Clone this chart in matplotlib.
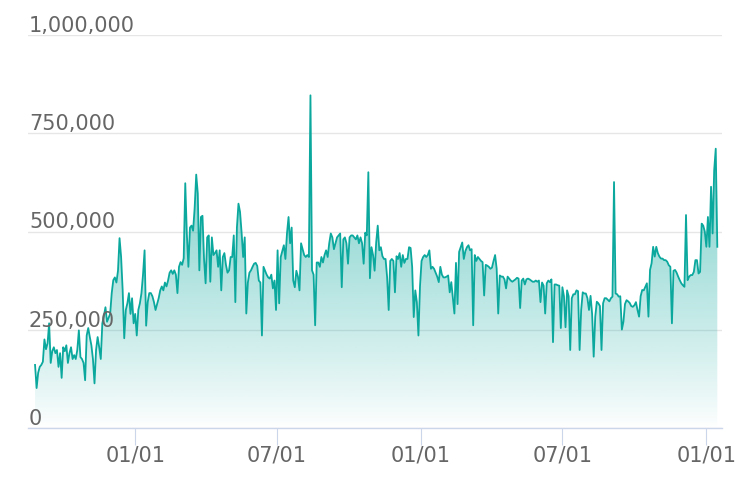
import numpy as np
import pandas as pd
import matplotlib
matplotlib.use("Agg")
import matplotlib.pyplot as plt
import matplotlib.dates as mdates
from matplotlib.colors import to_rgb

# ---------------- data ----------------
start_date = "2020-08-26"
step_days = 2
values_k = [
    160, 101, 140, 155, 160, 168, 225, 200, 215, 266,
    165, 195, 205, 190, 198, 155, 190, 127, 205, 195,
    210, 165, 190, 205, 175, 185, 175, 198, 248, 180,
    175, 165, 121, 235, 254, 231, 210, 175, 113, 198,
    231, 205, 175, 266, 285, 307, 270, 280, 290, 343,
    376, 383, 370, 400, 483, 435, 350, 228, 300, 317,
    343, 290, 330, 266, 290, 235, 300, 317, 343, 390,
    452, 260, 320, 343, 343, 335, 320, 300, 315, 330,
    350, 360, 350, 370, 360, 375, 395, 401, 392, 401,
    390, 343, 410, 422, 415, 432, 623, 495, 410, 510,
    515, 502, 560, 645, 597, 401, 537, 540, 430, 368,
    485, 490, 372, 485, 440, 445, 452, 410, 452, 350,
    435, 445, 415, 395, 401, 435, 435, 490, 320, 510,
    571, 550, 497, 435, 485, 291, 370, 395, 401, 410,
    418, 420, 412, 375, 370, 235, 410, 400, 390, 383,
    380, 390, 355, 375, 300, 452, 317, 435, 450, 465,
    430, 495, 537, 470, 510, 375, 358, 400, 385, 350,
    470, 455, 440, 435, 440, 435, 847, 401, 390, 261,
    421, 421, 410, 435, 421, 440, 452, 435, 470, 495,
    485, 455, 470, 485, 490, 495, 358, 480, 485, 470,
    418, 485, 490, 490, 485, 480, 490, 470, 485, 470,
    418, 497, 490, 651, 381, 460, 440, 400, 472, 515,
    452, 460, 437, 430, 430, 383, 300, 425, 430, 425,
    345, 437, 430, 445, 410, 440, 420, 430, 430, 460,
    458, 410, 282, 350, 320, 235, 360, 425, 435, 440,
    435, 440, 452, 405, 410, 405, 395, 385, 371, 410,
    390, 383, 383, 385, 388, 345, 371, 330, 291, 420,
    315, 448, 460, 472, 430, 450, 460, 465, 452, 455,
    261, 440, 425, 435, 430, 425, 422, 337, 415, 413,
    410, 405, 408, 425, 440, 405, 291, 388, 385, 385,
    378, 355, 385, 380, 375, 372, 375, 378, 382, 380,
    305, 375, 380, 365, 378, 380, 378, 375, 372, 372,
    375, 372, 375, 320, 370, 362, 291, 368, 375, 371,
    378, 218, 365, 365, 363, 362, 254, 358, 335, 256,
    350, 335, 198, 330, 340, 340, 350, 348, 198, 300,
    345, 342, 342, 330, 300, 336, 290, 181, 283, 321,
    317, 310, 198, 317, 330, 330, 326, 322, 330, 334,
    626, 342, 340, 334, 335, 250, 270, 315, 325, 322,
    318, 310, 308, 312, 320, 300, 283, 335, 351, 350,
    359, 368, 283, 402, 419, 461, 436, 461, 445, 436,
    431, 431, 427, 427, 423, 414, 410, 266, 400, 402,
    395, 385, 376, 368, 363, 359, 542, 376, 385, 389,
    389, 397, 427, 427, 393, 397, 520, 515, 500, 461,
    537, 461, 614, 495, 656, 711, 461,
]
y_ticks = [0, 250000, 500000, 750000, 1000000]
y_tick_labels = ["0", "250,000", "500,000", "750,000", "1,000,000"]
x_tick_months = [1, 7]
x_range = ("2020-08-17", "2023-01-21")

# ---------------- figure ----------------
W, H = 746, 492
LINE = "#0ba89e"
TEXT = "#666666"
GRID = "#e6e6e6"
AXIS = "#ccd6eb"

dates = pd.date_range(start_date, periods=len(values_k), freq=f"{step_days}D")
values = np.array(values_k, dtype=float) * 1000
x = mdates.date2num(dates)

fig = plt.figure(figsize=(W / 100, H / 100), dpi=100)
ax = fig.add_axes([28 / W, (H - 427.7) / H, (722 - 28) / W, (427.7 - 35.3) / H])

ax.plot(x, values, color=LINE, lw=1.3, zorder=3, solid_joinstyle="round")
poly = ax.fill_between(x, values, 0, facecolor="none", edgecolor="none")

vmax = values.max()
n = 512
t = np.linspace(0, 1, n)[:, None]
rgba = np.zeros((n, 1, 4))
rgba[..., :3] = to_rgb(LINE)
rgba[..., 3] = 0.62 * t ** 0.85
im = ax.imshow(rgba, extent=[x[0], x[-1], 0, vmax], origin="lower",
               aspect="auto", zorder=2, interpolation="bilinear")
im.set_clip_path(poly.get_paths()[0], transform=ax.transData)

ax.set_xlim(mdates.datestr2num(x_range[0]), mdates.datestr2num(x_range[1]))
ax.set_ylim(0, 1000000)

ax.set_yticks(y_ticks)
ax.set_axisbelow(True)
ax.yaxis.grid(True, color=GRID, lw=1.0)
ax.tick_params(axis="y", length=0, labelleft=False)
for v, lab in zip(y_ticks, y_tick_labels):
    ax.annotate(lab, xy=(0, v), xycoords=("axes fraction", "data"),
                xytext=(1, 3), textcoords="offset pixels", ha="left",
                va="baseline", fontsize=15, color=TEXT, annotation_clip=False)

ax.xaxis.set_major_locator(mdates.MonthLocator(bymonth=x_tick_months))
ax.xaxis.set_major_formatter(mdates.DateFormatter("%m/%d"))
ax.tick_params(axis="x", length=12, width=0.8, color=AXIS, pad=1,
               labelsize=15, labelcolor=TEXT)

for s in ["top", "right", "left"]:
    ax.spines[s].set_visible(False)
ax.spines["bottom"].set_color(AXIS)
ax.spines["bottom"].set_linewidth(1.0)

fig.savefig("out.png", dpi=100)
